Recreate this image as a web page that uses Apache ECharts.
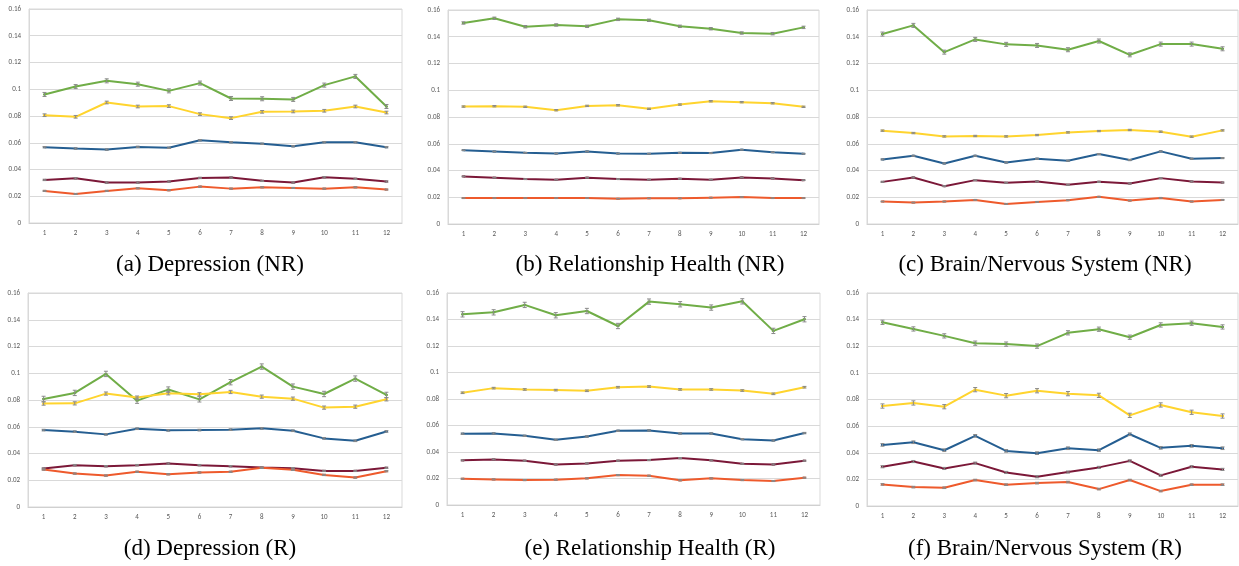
<!DOCTYPE html>
<html>
<head>
<meta charset="utf-8">
<script src="https://cdn.jsdelivr.net/npm/echarts@6/dist/echarts.min.js"></script>
<style>
html,body{margin:0;padding:0;background:#fff;}
#chart{width:1239px;height:566px;}
</style>
</head>
<body>
<div id="chart"></div>
<script>
// ---- data ----
const categories = ['1','2','3','4','5','6','7','8','9','10','11','12'];
const yTicks = [0, 0.02, 0.04, 0.06, 0.08, 0.1, 0.12, 0.14, 0.16];
const seriesNames = ['Green', 'Yellow', 'Blue', 'Dark red', 'Orange'];
const captions = ['(a) Depression (NR)', '(b) Relationship Health (NR)', '(c) Brain/Nervous System (NR)',
                  '(d) Depression (R)', '(e) Relationship Health (R)', '(f) Brain/Nervous System (R)'];

// (a) Depression (NR)
const aGreen  = [0.0961,0.1020,0.1063,0.1038,0.0988,0.1046,0.0931,0.0929,0.0924,0.1031,0.1096,0.0871];
const aYellow = [0.0806,0.0794,0.0901,0.0871,0.0874,0.0814,0.0784,0.0831,0.0834,0.0839,0.0871,0.0826];
const aBlue   = [0.0567,0.0557,0.0549,0.0569,0.0562,0.0619,0.0604,0.0592,0.0574,0.0604,0.0604,0.0567];
const aRed    = [0.0322,0.0334,0.0302,0.0302,0.0310,0.0337,0.0340,0.0315,0.0302,0.0342,0.0330,0.0310];
const aOrange = [0.0240,0.0217,0.0240,0.0260,0.0245,0.0272,0.0257,0.0267,0.0262,0.0257,0.0267,0.0250];
const aErr    = [0.0015,0.0010,0.0005,0.0005,0.0004];

// (b) Relationship Health (NR)
const bGreen  = [0.1503,0.1538,0.1475,0.1488,0.1478,0.1530,0.1523,0.1478,0.1460,0.1428,0.1423,0.1470];
const bYellow = [0.0878,0.0881,0.0876,0.0851,0.0883,0.0888,0.0861,0.0893,0.0918,0.0911,0.0903,0.0876];
const bBlue   = [0.0552,0.0542,0.0532,0.0527,0.0542,0.0527,0.0525,0.0532,0.0530,0.0555,0.0537,0.0525];
const bRed    = [0.0356,0.0346,0.0336,0.0331,0.0346,0.0336,0.0331,0.0338,0.0331,0.0348,0.0341,0.0328];
const bOrange = [0.0194,0.0194,0.0194,0.0194,0.0194,0.0189,0.0192,0.0192,0.0197,0.0202,0.0194,0.0194];
const bErr    = [0.0009,0.0005,0.0003,0.0003,0.0002];

// (c) Brain/Nervous System (NR)
const cGreen  = [0.1420,0.1485,0.1285,0.1380,0.1343,0.1335,0.1303,0.1368,0.1265,0.1345,0.1345,0.1310];
const cYellow = [0.0698,0.0680,0.0655,0.0658,0.0655,0.0665,0.0685,0.0695,0.0703,0.0690,0.0653,0.0700];
const cBlue   = [0.0483,0.0510,0.0453,0.0510,0.0460,0.0488,0.0473,0.0523,0.0478,0.0543,0.0488,0.0493];
const cRed    = [0.0315,0.0348,0.0283,0.0328,0.0308,0.0318,0.0293,0.0315,0.0303,0.0343,0.0318,0.0310];
const cOrange = [0.0168,0.0160,0.0168,0.0180,0.0150,0.0165,0.0178,0.0203,0.0175,0.0195,0.0168,0.0180];
const cErr    = [0.0015,0.0005,0.0004,0.0004,0.0003];

// (d) Depression (R)
const dGreen  = [0.0808,0.0853,0.0995,0.0795,0.0878,0.0805,0.0933,0.1050,0.0900,0.0845,0.0960,0.0838];
const dYellow = [0.0773,0.0775,0.0848,0.0818,0.0850,0.0843,0.0860,0.0825,0.0810,0.0743,0.0750,0.0805];
const dBlue   = [0.0575,0.0563,0.0543,0.0585,0.0573,0.0575,0.0578,0.0588,0.0570,0.0513,0.0495,0.0565];
const dRed    = [0.0288,0.0313,0.0305,0.0313,0.0325,0.0313,0.0305,0.0295,0.0290,0.0270,0.0270,0.0293];
const dOrange = [0.0280,0.0250,0.0235,0.0263,0.0245,0.0258,0.0263,0.0293,0.0278,0.0240,0.0220,0.0268];
const dErr    = [0.0020,0.0012,0.0006,0.0005,0.0005];

// (e) Relationship Health (R)
const eGreen  = [0.1439,0.1454,0.1510,0.1432,0.1464,0.1351,0.1535,0.1515,0.1490,0.1537,0.1314,0.1402];
const eYellow = [0.0847,0.0882,0.0872,0.0867,0.0862,0.0889,0.0894,0.0872,0.0872,0.0864,0.0839,0.0889];
const eBlue   = [0.0538,0.0540,0.0522,0.0492,0.0517,0.0560,0.0563,0.0540,0.0540,0.0497,0.0487,0.0543];
const eRed    = [0.0337,0.0344,0.0334,0.0306,0.0314,0.0334,0.0339,0.0354,0.0337,0.0311,0.0306,0.0334];
const eOrange = [0.0198,0.0193,0.0188,0.0191,0.0201,0.0226,0.0221,0.0186,0.0201,0.0188,0.0181,0.0206];
const eErr    = [0.0020,0.0006,0.0005,0.0004,0.0004];

// (f) Brain/Nervous System (R)
const fGreen  = [0.1380,0.1330,0.1278,0.1223,0.1216,0.1201,0.1301,0.1328,0.1268,0.1360,0.1373,0.1345];
const fYellow = [0.0751,0.0774,0.0746,0.0874,0.0829,0.0866,0.0844,0.0831,0.0681,0.0759,0.0704,0.0676];
const fBlue   = [0.0459,0.0479,0.0419,0.0527,0.0414,0.0397,0.0434,0.0419,0.0539,0.0437,0.0452,0.0434];
const fRed    = [0.0295,0.0334,0.0282,0.0322,0.0252,0.0220,0.0255,0.0290,0.0339,0.0230,0.0295,0.0275];
const fOrange = [0.0162,0.0142,0.0137,0.0195,0.0160,0.0172,0.0180,0.0127,0.0195,0.0112,0.0160,0.0160];
const fErr    = [0.0016,0.0016,0.0010,0.0008,0.0006];

const panelData = [
  [aGreen, aYellow, aBlue, aRed, aOrange],
  [bGreen, bYellow, bBlue, bRed, bOrange],
  [cGreen, cYellow, cBlue, cRed, cOrange],
  [dGreen, dYellow, dBlue, dRed, dOrange],
  [eGreen, eYellow, eBlue, eRed, eOrange],
  [fGreen, fYellow, fBlue, fRed, fOrange]
];
const panelErr = [aErr, bErr, cErr, dErr, eErr, fErr];

// ---- layout / style ----
const colors = ['#70AD47', '#FFD42E', '#255E91', '#7B1838', '#EE5A2C'];
const grids = [
  {left: 29,  top: 9,   width: 373, height: 214},
  {left: 448, top: 10,  width: 371, height: 214},
  {left: 867, top: 10,  width: 371, height: 214},
  {left: 28,  top: 293, width: 374, height: 214},
  {left: 447, top: 293, width: 373, height: 212},
  {left: 867, top: 293, width: 371, height: 213}
];
const captionPos = [[205, 262], [645, 262], [1040, 262], [205, 546], [645, 546], [1040, 546]];

const tickFont = {fontFamily: 'Carlito, Calibri, "Liberation Sans", sans-serif', fontSize: 7, color: '#595959'};

function errRender(params, api) {
  const x = api.value(0), y = api.value(1), e = api.value(2);
  const t = api.coord([x, y + e]);
  const b = api.coord([x, y - e]);
  const hw = 2;
  const st = {stroke: '#8a8a8a', lineWidth: 1};
  return {type: 'group', children: [
    {type: 'line', shape: {x1: t[0], y1: t[1], x2: b[0], y2: b[1]}, style: st},
    {type: 'line', shape: {x1: t[0] - hw, y1: t[1], x2: t[0] + hw, y2: t[1]}, style: st},
    {type: 'line', shape: {x1: b[0] - hw, y1: b[1], x2: b[0] + hw, y2: b[1]}, style: st}
  ]};
}

const option = {
  animation: false,
  backgroundColor: '#ffffff',
  grid: grids.map(g => Object.assign({show: true, borderColor: '#d9d9d9', borderWidth: 1, containLabel: false}, g)),
  title: captions.map((c, i) => ({
    text: c, left: captionPos[i][0], top: captionPos[i][1] - 14, textAlign: 'center',
    textStyle: {fontFamily: '"Liberation Serif", "Times New Roman", serif', fontSize: 23, fontWeight: 'normal', color: '#000'}
  })),
  xAxis: grids.map((g, i) => ({
    type: 'category', gridIndex: i, data: categories, boundaryGap: true,
    axisLine: {show: true, lineStyle: {color: '#d0d0d0'}},
    axisTick: {show: false},
    axisLabel: Object.assign({margin: 7, interval: 0}, tickFont),
    splitLine: {show: false}
  })),
  yAxis: grids.map((g, i) => ({
    type: 'value', gridIndex: i, min: yTicks[0], max: yTicks[yTicks.length - 1], interval: 0.02,
    axisLine: {show: true, lineStyle: {color: '#d9d9d9'}},
    axisTick: {show: false},
    axisLabel: Object.assign({margin: 8, formatter: v => String(+v.toFixed(2))}, tickFont),
    splitLine: {show: true, lineStyle: {color: '#d9d9d9', width: 1}}
  })),
  series: []
};

panelData.forEach((sers, p) => {
  sers.forEach((vals, s) => {
    option.series.push({
      name: seriesNames[s], type: 'line', xAxisIndex: p, yAxisIndex: p,
      data: vals, symbol: 'rect', symbolSize: [3, 2], showSymbol: true,
      itemStyle: {color: colors[s]},
      lineStyle: {color: colors[s], width: 2},
      z: 2
    });
  });
  sers.forEach((vals, s) => {
    option.series.push({
      type: 'custom', xAxisIndex: p, yAxisIndex: p,
      renderItem: errRender,
      data: vals.map((v, k) => [k, v, panelErr[p][s]]),
      encode: {x: 0, y: 1},
      z: 3, silent: true
    });
  });
});

const chart = echarts.init(document.getElementById('chart'), null, {renderer: 'canvas'});
chart.setOption(option);
</script>
</body>
</html>
